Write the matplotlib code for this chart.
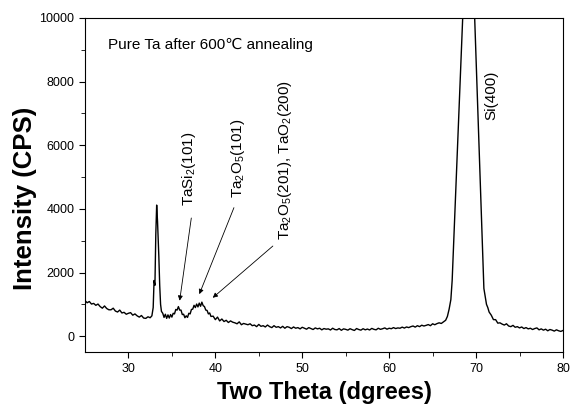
import matplotlib
matplotlib.use('Agg')
import matplotlib.pyplot as plt

plt.rcParams['font.family'] = ['Liberation Sans', 'DejaVu Sans']
plt.rcParams['mathtext.fontset'] = 'custom'
plt.rcParams['mathtext.rm'] = 'Liberation Sans'

# XRD pattern (2-theta in degrees, intensity in CPS)
two_theta = [
    25.0, 25.25, 25.5, 25.75, 26.0, 26.25, 26.5, 26.75, 27.0, 27.25, 27.5, 27.75,
    28.0, 28.25, 28.5, 28.75, 29.0, 29.25, 29.5, 29.75, 30.0, 30.25, 30.5, 30.75,
    31.0, 31.25, 31.5, 31.75, 32.0, 32.25, 32.5, 32.7, 32.85, 32.95, 33.05, 33.15,
    33.25, 33.35, 33.5, 33.6, 33.7, 33.8, 33.95, 34.1, 34.25, 34.4, 34.55, 34.7,
    34.85, 35.0, 35.15, 35.3, 35.45, 35.6, 35.75, 35.9, 36.05, 36.2, 36.35, 36.5,
    36.65, 36.8, 36.95, 37.1, 37.25, 37.4, 37.55, 37.7, 37.85, 38.0, 38.15, 38.3,
    38.45, 38.6, 38.75, 38.9, 39.05, 39.2, 39.35, 39.5, 39.75, 40.0, 40.25, 40.5,
    40.75, 41.0, 41.25, 41.5, 41.75, 42.0, 42.25, 42.5, 42.75, 43.0, 43.25, 43.5,
    43.75, 44.0, 44.25, 44.5, 44.75, 45.0, 45.25, 45.5, 45.75, 46.0, 46.25, 46.5,
    46.75, 47.0, 47.25, 47.5, 47.75, 48.0, 48.25, 48.5, 48.75, 49.0, 49.25, 49.5,
    49.75, 50.0, 50.25, 50.5, 50.75, 51.0, 51.25, 51.5, 51.75, 52.0, 52.25, 52.5,
    52.75, 53.0, 53.25, 53.5, 53.75, 54.0, 54.25, 54.5, 54.75, 55.0, 55.25, 55.5,
    55.75, 56.0, 56.25, 56.5, 56.75, 57.0, 57.25, 57.5, 57.75, 58.0, 58.25, 58.5,
    58.75, 59.0, 59.25, 59.5, 59.75, 60.0, 60.25, 60.5, 60.75, 61.0, 61.25, 61.5,
    61.75, 62.0, 62.25, 62.5, 62.75, 63.0, 63.25, 63.5, 63.75, 64.0, 64.25, 64.5,
    64.75, 65.0, 65.25, 65.5, 65.75, 66.0, 66.25, 66.5, 66.7, 66.9, 67.1, 67.25,
    67.5, 67.75, 68.0, 68.25, 68.5, 68.75, 69.0, 69.2, 69.4, 69.6, 69.8, 70.0,
    70.25, 70.5, 70.75, 70.9, 71.05, 71.2, 71.35, 71.5, 71.75, 72.0, 72.25, 72.5,
    72.75, 73.0, 73.25, 73.5, 73.75, 74.0, 74.25, 74.5, 74.75, 75.0, 75.25, 75.5,
    75.75, 76.0, 76.25, 76.5, 76.75, 77.0, 77.25, 77.5, 77.75, 78.0, 78.25, 78.5,
    78.75, 79.0, 79.25, 79.5, 79.75, 80.0,
]
intensity = [
    1120, 1050, 1090, 1010, 1030, 970, 1010, 930, 880, 950, 870, 830,
    830, 880, 790, 760, 820, 730, 750, 690, 720, 740, 660, 700,
    640, 600, 650, 570, 560, 610, 580, 640, 900, 1750, 1600, 3200,
    4120, 3600, 2500, 1600, 1000, 780, 720, 590, 690, 560, 670, 570,
    680, 600, 720, 700, 840, 820, 930, 820, 820, 680, 690, 580,
    640, 590, 720, 700, 840, 850, 970, 900, 1010, 920, 1040, 940,
    1070, 960, 930, 820, 810, 700, 730, 620, 630, 520, 600, 480,
    540, 460, 500, 430, 480, 440, 420, 390, 450, 360, 400, 380,
    360, 390, 330, 350, 300, 370, 310, 330, 290, 350, 300, 270,
    330, 280, 300, 260, 310, 250, 300, 280, 240, 290, 250, 270,
    230, 280, 250, 220, 270, 240, 210, 260, 230, 250, 200, 240,
    220, 230, 195, 250, 210, 200, 240, 185, 230, 215, 190, 235,
    205, 180, 240, 210, 190, 235, 200, 225, 195, 245, 215, 200,
    250, 215, 235, 260, 220, 250, 235, 270, 240, 260, 250, 285,
    255, 290, 270, 300, 320, 285, 330, 300, 345, 320, 340, 365,
    330, 390, 360, 395, 420, 400, 450, 500, 620, 850, 1150, 1750,
    3450, 5150, 6860, 8560, 10260, 11960, 13670, 14800, 13550, 11940, 10320, 8700,
    6680, 4660, 2640, 1500, 1250, 1000, 900, 760, 660, 520, 520, 410,
    420, 380, 350, 390, 320, 300, 340, 280, 300, 260, 290, 240,
    270, 230, 250, 210, 240, 260, 200, 230, 190, 220, 170, 210,
    190, 160, 200, 170, 150, 180,
]

fig = plt.figure(figsize=(5.78, 4.08), dpi=100)
ax = fig.add_axes([0.147, 0.137, 0.827, 0.819])

ax.plot(two_theta, intensity, color='black', linewidth=1.0)

ax.set_xlim(25, 80)
ax.set_ylim(-500, 10000)
ax.set_xticks([30, 40, 50, 60, 70, 80])
ax.set_xticks([35, 45, 55, 65, 75], minor=True)
ax.set_yticks([0, 2000, 4000, 6000, 8000, 10000])
ax.set_yticks([1000, 3000, 5000, 7000, 9000], minor=True)
ax.tick_params(which='both', direction='out', labelsize=9, top=False, right=False)
ax.tick_params(which='major', length=4)
ax.tick_params(which='minor', length=3)

ax.set_xlabel('Two Theta (dgrees)', fontsize=17, fontweight='bold', labelpad=5)
ax.set_ylabel('Intensity (CPS)', fontsize=18.5, fontweight='bold', va='center')
ax.yaxis.set_label_coords(-0.1255, 0.461)

ax.text(27.6, 9150, 'Pure Ta after 600\u2103 annealing', fontsize=11,
        ha='left', va='center')

arrow = dict(arrowstyle='-|>', color='black', lw=0.6, mutation_scale=7)
ax.text(37.0, 4100, 'TaSi$_2$(101)', rotation=90, fontsize=11, ha='center', va='bottom')
ax.annotate('', xy=(35.85, 1030), xytext=(37.28, 3800), arrowprops=arrow)
ax.text(42.6, 4340, 'Ta$_2$O$_5$(101)', rotation=90, fontsize=11, ha='center', va='bottom')
ax.annotate('', xy=(38.04, 1240), xytext=(42.26, 4120), arrowprops=arrow)
ax.text(48.0, 3020, 'Ta$_2$O$_5$(201), TaO$_2$(200)', rotation=90, fontsize=11,
        ha='center', va='bottom')
ax.annotate('', xy=(39.46, 1150), xytext=(46.86, 2890), arrowprops=arrow)
ax.text(71.8, 6790, 'Si(400)', rotation=90, fontsize=11, ha='center', va='bottom')

fig.savefig('out.png', dpi=100)
